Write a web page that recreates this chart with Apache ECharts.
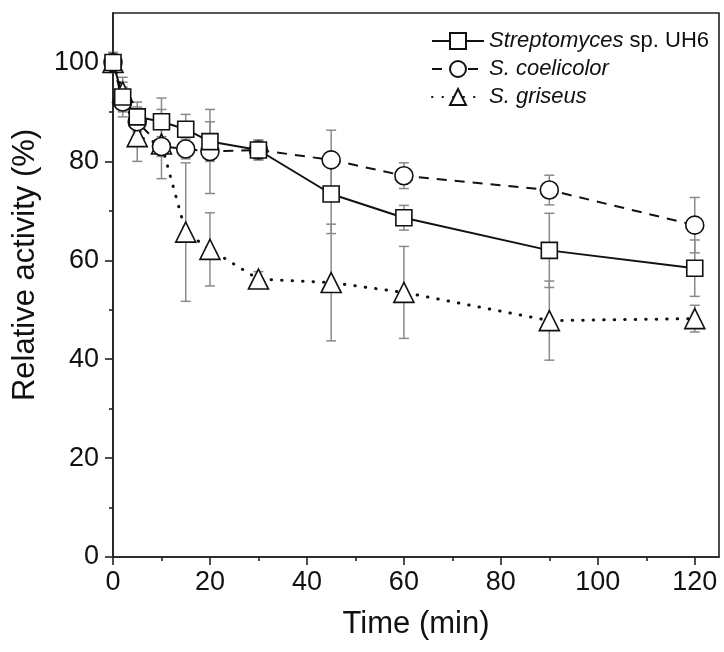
<!DOCTYPE html>
<html>
<head>
<meta charset="utf-8">
<script src="https://cdn.jsdelivr.net/npm/echarts@6/dist/echarts.min.js"></script>
<style>html,body{margin:0;padding:0;background:#fff}#c{width:724px;height:652px}</style>
</head>
<body>
<div id="c"></div>
<script>
const times = [0, 2, 5, 10, 15, 20, 30, 45, 60, 90, 120];
const uh6 = [100, 93, 89, 88, 86.5, 84, 82.3, 73.4, 68.6, 62, 58.4];
const uh6Err = [2, 3, 3, 4.8, 3, 4, 2, 8, 2.5, 7.5, 5.7];
const coel = [100, 92, 88, 83, 82.5, 82, 82.3, 80.3, 77.1, 74.2, 67.1];
const coelErr = [2, 3, 3, 2, 2, 8.5, 2, 6, 2.6, 3, 5.6];
const gris = [100, 94, 85, 83.5, 65.7, 62.2, 56.2, 55.5, 53.5, 47.8, 48.2];
const grisErr = [2, 3, 5, 7, 14, 7.4, 1.5, 11.8, 9.3, 8, 2.7];
const xMajor = [0, 20, 40, 60, 80, 100, 120];
const xMinor = [10, 30, 50, 70, 90, 110];
const yMajor = [0, 20, 40, 60, 80, 100];
const yMinor = [10, 30, 50, 70, 90];
const names = ['Streptomyces sp. UH6', 'S. coelicolor', 'S. griseus'];

const FONT = 'Liberation Sans, Arial, sans-serif';
const pts = v => times.map((t, i) => [t, v[i]]);
const errs = (v, e) => times.map((t, i) => [t, v[i] - e[i], v[i] + e[i]]);

function errSeries(v, e) {
  return {
    type: 'custom', z: 1, silent: true,
    data: errs(v, e),
    renderItem: function (params, api) {
      const x = api.value(0);
      const lo = api.coord([x, api.value(1)]);
      const hi = api.coord([x, api.value(2)]);
      const w = 5;
      const st = { stroke: '#8a8a8a', lineWidth: 1.5 };
      return {
        type: 'group', children: [
          { type: 'line', shape: { x1: lo[0], y1: lo[1], x2: hi[0], y2: hi[1] }, style: st },
          { type: 'line', shape: { x1: lo[0] - w, y1: lo[1], x2: lo[0] + w, y2: lo[1] }, style: st },
          { type: 'line', shape: { x1: hi[0] - w, y1: hi[1], x2: hi[0] + w, y2: hi[1] }, style: st }
        ]
      };
    }
  };
}

function lineSeries(name, v, symbol, lineType, size, extra) {
  return Object.assign({
    name: name, type: 'line', z: 3, data: pts(v),
    symbol: symbol, symbolSize: size, showAllSymbol: true,
    lineStyle: { color: '#111', width: 2, type: lineType },
    itemStyle: { color: '#fff', borderColor: '#111', borderWidth: 1.6 },
    emphasis: { disabled: true },
    animation: false
  }, extra || {});
}

const chart = echarts.init(document.getElementById('c'));
const axisLine = { show: true, lineStyle: { color: '#222', width: 1.6 } };
chart.setOption({
  animation: false,
  grid: { left: 113, right: 5, top: 13, bottom: 95, show: true, borderColor: '#222', borderWidth: 1.6 },
  legend: {
    orient: 'vertical', left: 426, top: 25, itemWidth: 52, itemHeight: 20, itemGap: 6,
    data: names,
    formatter: function (n) {
      if (n === names[0]) return '{i|Streptomyces} sp. UH6';
      return '{i|' + n + '}';
    },
    textStyle: { fontFamily: FONT, fontSize: 22, color: '#111',
      rich: { i: { fontFamily: FONT, fontSize: 22, fontStyle: 'italic', color: '#111' } } }
  },
  xAxis: [
    { type: 'value', min: 0, max: 125, position: 'bottom',
      name: 'Time (min)', nameLocation: 'middle', nameGap: 52,
      nameTextStyle: { fontFamily: FONT, fontSize: 31, color: '#111' },
      axisLine: axisLine,
      axisTick: { show: true, customValues: xMajor, length: 8, lineStyle: { color: '#222', width: 1.6 } },
      axisLabel: { show: true, customValues: xMajor, fontFamily: FONT, fontSize: 27, color: '#111', margin: 12 },
      splitLine: { show: false } },
    { type: 'value', min: 0, max: 125, position: 'bottom',
      axisLine: { show: false },
      axisTick: { show: true, customValues: xMinor, length: 4, lineStyle: { color: '#222', width: 1.6 } },
      axisLabel: { show: false }, splitLine: { show: false } }
  ],
  yAxis: [
    { type: 'value', min: 0, max: 110, position: 'left',
      name: 'Relative activity (%)', nameLocation: 'middle', nameGap: 72,
      nameTextStyle: { fontFamily: FONT, fontSize: 31, color: '#111', padding: [0, 0, 0, 40] },
      axisLine: axisLine,
      axisTick: { show: true, customValues: yMajor, length: 8, lineStyle: { color: '#222', width: 1.6 } },
      axisLabel: { show: true, customValues: yMajor, fontFamily: FONT, fontSize: 27, color: '#111', margin: 14 },
      splitLine: { show: false } },
    { type: 'value', min: 0, max: 110, position: 'left',
      axisLine: { show: false },
      axisTick: { show: true, customValues: yMinor, length: 4, lineStyle: { color: '#222', width: 1.6 } },
      axisLabel: { show: false }, splitLine: { show: false } }
  ],
  series: [
    errSeries(uh6, uh6Err),
    errSeries(coel, coelErr),
    errSeries(gris, grisErr),
    lineSeries(names[2], gris, 'triangle', [1, 9], 20, { lineStyle: { color: '#111', width: 3, type: [0.5, 10], cap: 'round' } }),
    lineSeries(names[1], coel, 'circle', [10, 8], 18),
    lineSeries(names[0], uh6, 'rect', 'solid', 16)
  ]
});
</script>
</body>
</html>
